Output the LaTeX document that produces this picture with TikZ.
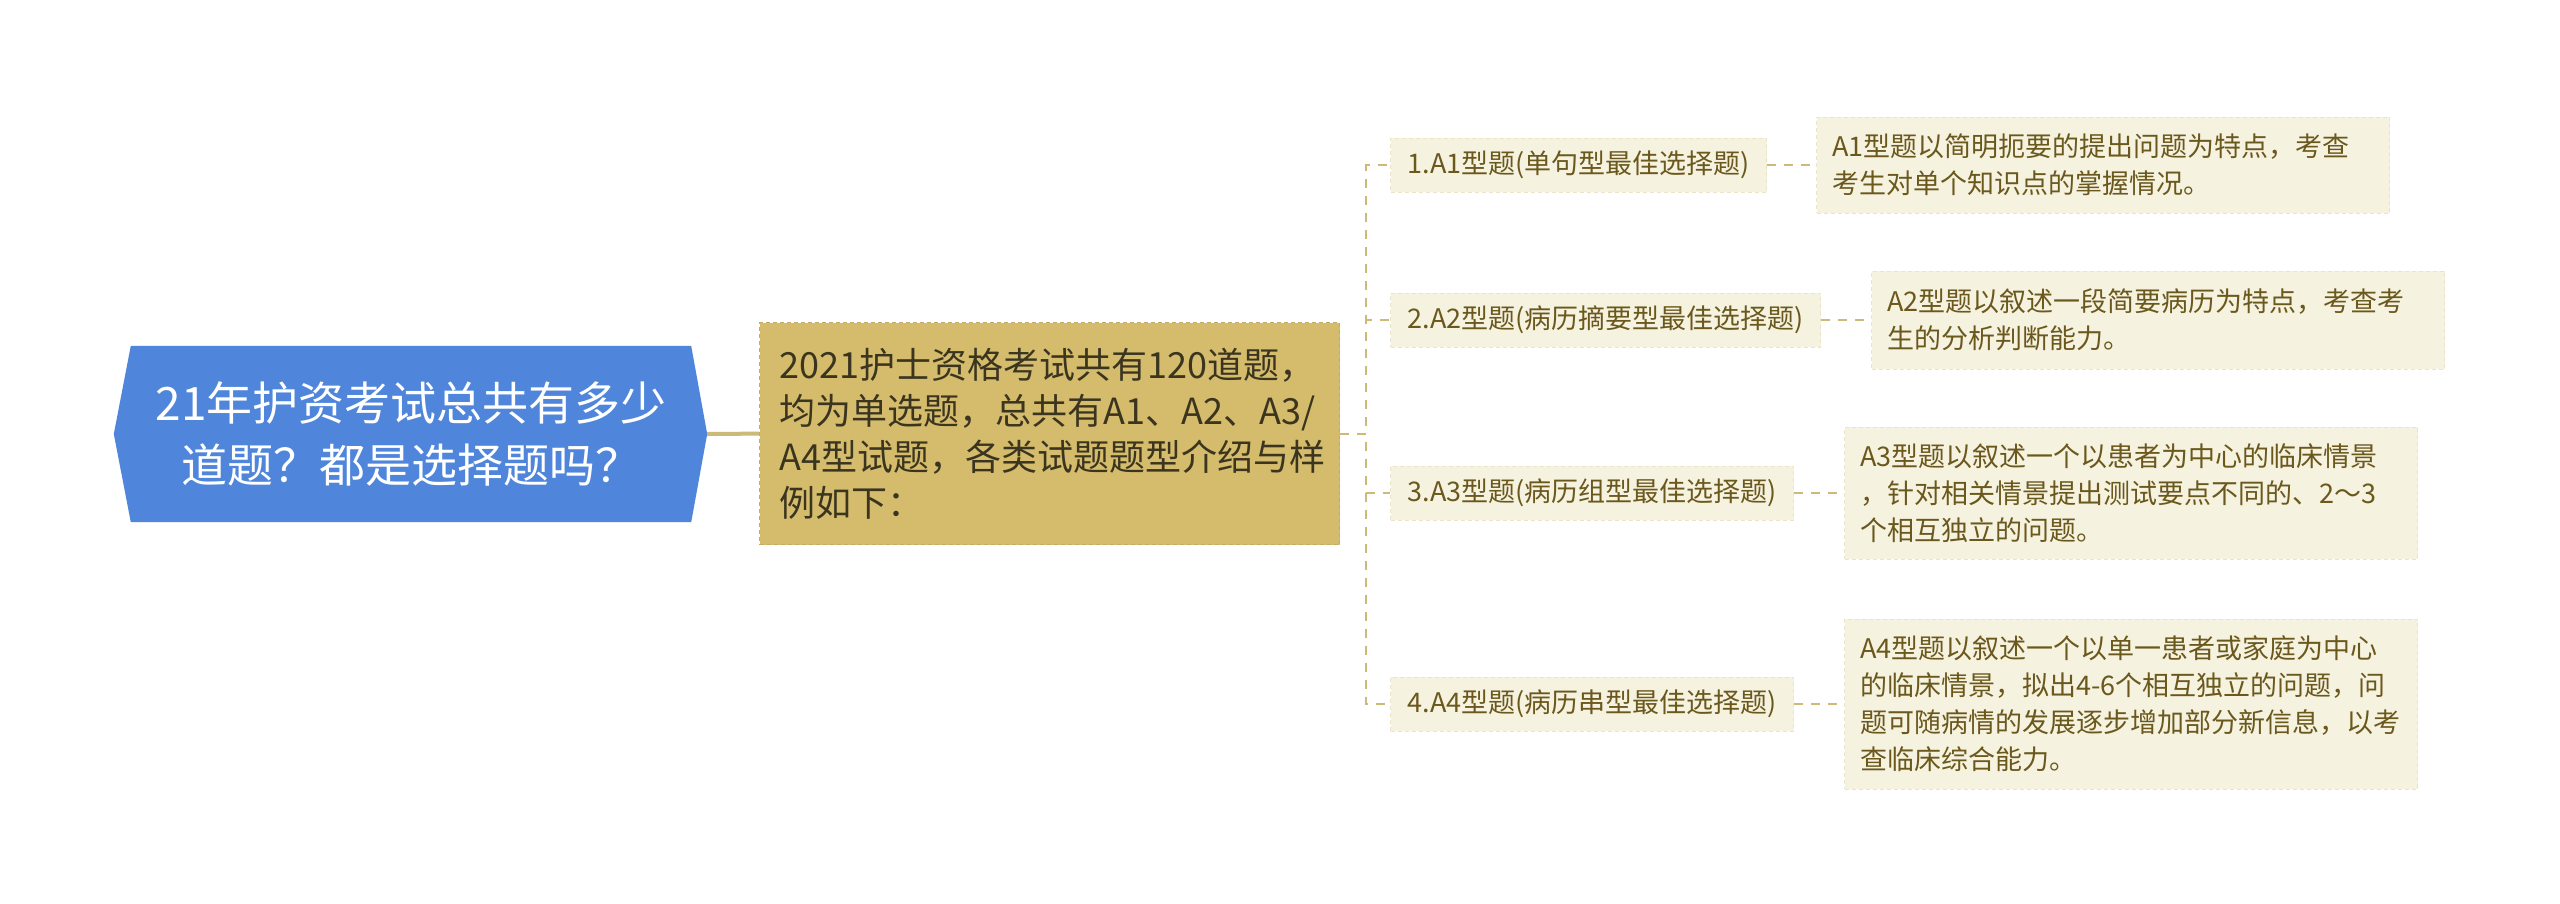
\documentclass[tikz,border=0pt]{standalone}
\usepackage{fontspec}
\newfontfamily\cjk{Noto Sans CJK SC}
\usetikzlibrary{calc,backgrounds}
\definecolor{rootblue}{HTML}{4F86DB}
\definecolor{midgold}{HTML}{D4BC6C}
\definecolor{midborder}{HTML}{C4AC62}
\definecolor{cream}{HTML}{F6F2E0}
\definecolor{creamborder}{HTML}{ECE4C6}
\definecolor{olive}{HTML}{6A581C}
\definecolor{darktext}{HTML}{3B3520}
\definecolor{conn}{HTML}{CDB978}
\begin{document}
\begin{tikzpicture}[x=1pt,y=-1pt,
  rootbox/.style={minimum width=560, minimum height=176, inner sep=0, align=center, text=white, font=\cjk\fontsize{46}{62}\selectfont},
  midbox/.style={anchor=north west, fill=midgold, draw=midborder, dash pattern=on 4pt off 3pt, line width=1.2pt, text width=540, inner xsep=20, inner ysep=0, minimum height=222, align=left, text=darktext, font=\cjk\fontsize{36}{46}\selectfont},
  childbox/.style={anchor=west, fill=cream, draw=creamborder, dash pattern=on 4pt off 3pt, line width=1pt, inner xsep=17, inner ysep=0, minimum height=54, text=olive, font=\cjk\fontsize{27}{37}\selectfont},
  leafbox/.style={anchor=west, fill=cream, draw=creamborder, dash pattern=on 4pt off 3pt, line width=1pt, text width=541, inner xsep=16, inner ysep=0, align=left, text=olive, font=\cjk\fontsize{27}{37}\selectfont},
  conndash/.style={draw=conn, line width=2pt, dash pattern=on 9pt off 8pt},
  connsolid/.style={draw=conn, line width=4pt}
]
\useasboundingbox (0,0) rectangle (2560,903);

% root
\node[rootbox] (root) at (411,434) {21年护资考试总共有多少\\道题？都是选择题吗？};
\begin{scope}[on background layer]
\fill[white] (0,0) rectangle (2560,903);
\fill[rootblue] (root.north west) -- (root.north east) -- ($(root.east)+(16,0)$) -- (root.south east) -- (root.south west) -- ($(root.west)+(-17,0)$) -- cycle;
\end{scope}
\coordinate (rootpt) at ($(root.east)+(16,0)$);

% middle
\node[midbox] (mid) at (759,322) {2021护士资格考试共有120道题，\\均为单选题，总共有A1、A2、A3/\\A4型试题，各类试题题型介绍与样\\例如下：};

% children
\node[childbox] (c1) at (1390,165) {1.A1型题(单句型最佳选择题)};
\node[childbox] (c2) at (1390,320) {2.A2型题(病历摘要型最佳选择题)};
\node[childbox] (c3) at (1390,493) {3.A3型题(病历组型最佳选择题)};
\node[childbox] (c4) at (1390,704) {4.A4型题(病历串型最佳选择题)};

% leaves
\node[leafbox, minimum height=96] (l1) at (1816,165) {A1型题以简明扼要的提出问题为特点，考查\\考生对单个知识点的掌握情况。};
\node[leafbox, minimum height=98] (l2) at (1871,320) {A2型题以叙述一段简要病历为特点，考查考\\生的分析判断能力。};
\node[leafbox, minimum height=132] (l3) at (1844,493) {A3型题以叙述一个以患者为中心的临床情景\\，针对相关情景提出测试要点不同的、2～3\\个相互独立的问题。};
\node[leafbox, minimum height=170] (l4) at (1844,704) {A4型题以叙述一个以单一患者或家庭为中心\\的临床情景，拟出4-6个相互独立的问题，问\\题可随病情的发展逐步增加部分新信息，以考\\查临床综合能力。};

% connectors
\draw[connsolid] (rootpt) -- (mid.west);
\foreach \c in {c1,c2,c3,c4} {
  \draw[conndash] (mid.east) -- ($(mid.east)+(26,0)$) |- (\c.west);
}
\draw[conndash] (c1.east) -- (l1.west);
\draw[conndash] (c2.east) -- (l2.west);
\draw[conndash] (c3.east) -- (l3.west);
\draw[conndash] (c4.east) -- (l4.west);
\end{tikzpicture}
\end{document}
